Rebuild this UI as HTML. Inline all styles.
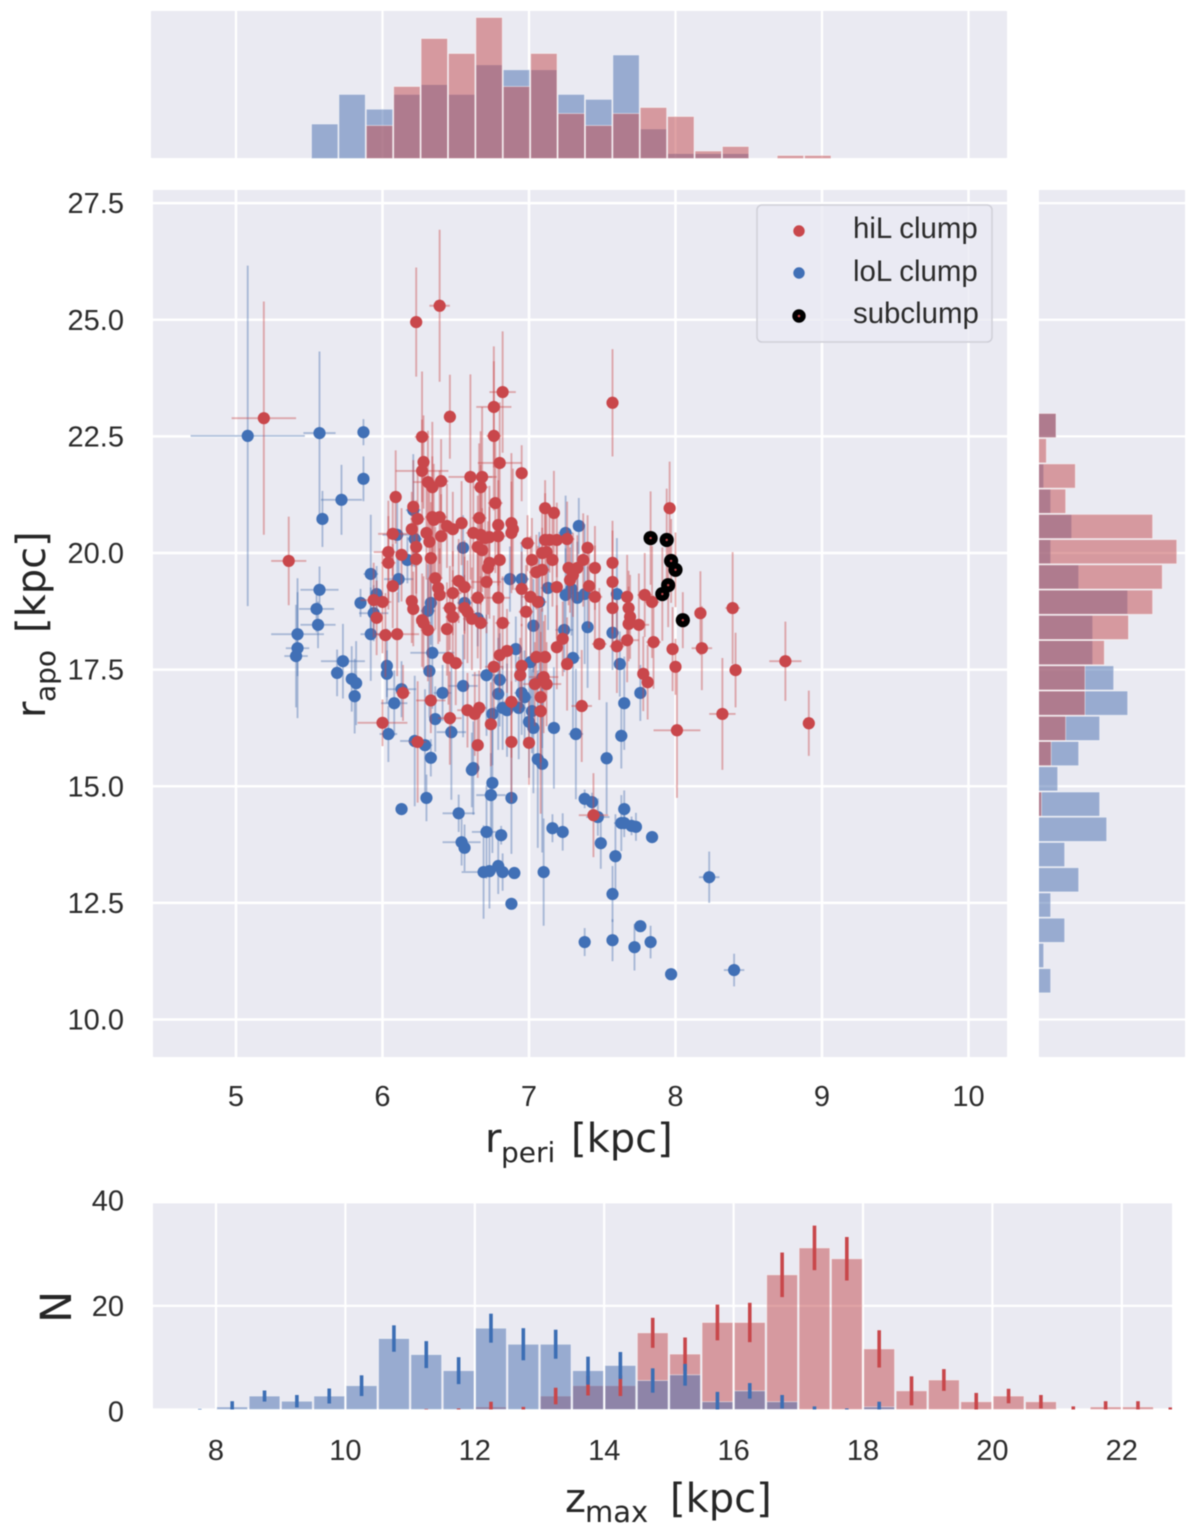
<!DOCTYPE html>
<html lang="en">
<head>
<meta charset="utf-8">
<title>Orbital parameters of clump stars</title>
<style>
html,body{margin:0;padding:0;background:#fff;}
#figure{display:block;width:1200px;height:1527px;filter:blur(0.55px);}
text{font-family:"Liberation Sans",Arial,sans-serif;fill:#2b2b2b;}
.math{font-family:"DejaVu Sans",sans-serif;fill:#262626;}
</style>
</head>
<body>
<svg id="figure" xmlns="http://www.w3.org/2000/svg" width="1200" height="1527" viewBox="0 0 1200 1527">
  <defs>
    <clipPath id="clip-right"><rect x="1039" y="190" width="146" height="867"/></clipPath>
    <clipPath id="clip-bottom"><rect x="153" y="1203" width="1019" height="207"/></clipPath>
  </defs>
  <rect x="151" y="11" width="856" height="147" fill="#eaeaf2"/>
  <rect x="153" y="190" width="854" height="867" fill="#eaeaf2"/>
  <rect x="1039" y="190" width="146" height="867" fill="#eaeaf2"/>
  <rect x="153" y="1203" width="1019" height="207" fill="#eaeaf2"/>
  <g id="grid"></g>
  <g id="top-hist"></g>
  <g id="right-hist" clip-path="url(#clip-right)"></g>
  <g id="scatter"></g>
  <g id="z-hist" clip-path="url(#clip-bottom)"></g>
  <g id="ticks"></g>

  <g>
    <rect x="757" y="205" width="235" height="137" rx="5" fill="#eaeaf2" fill-opacity="0.8" stroke="#cfcfd8" stroke-width="1.5"/>
    <circle cx="799" cy="231" r="5.7" fill="#c9474b"/>
    <text x="853" y="238" font-size="29.4">hiL clump</text>
    <circle cx="799" cy="273" r="5.7" fill="#4170b6"/>
    <text x="853" y="281" font-size="29.4">loL clump</text>
    <circle cx="799" cy="316" r="6.7" fill="#000"/>
    <circle cx="799" cy="316" r="1.3" fill="#c9474b"/>
    <text x="853" y="323" font-size="29.4">subclump</text>
  </g>

  <text class="math" y="1152" font-size="40"><tspan x="485">r</tspan><tspan x="501" dy="10" font-size="28">peri</tspan><tspan x="571" dy="-10">[kpc]</tspan></text>
  <text class="math" transform="translate(45,718) rotate(-90)" y="0" font-size="40"><tspan x="0">r</tspan><tspan x="16" dy="10" font-size="28">apo</tspan><tspan x="85" dy="-10">[kpc]</tspan></text>
  <text class="math" y="1512" font-size="40"><tspan x="565">z</tspan><tspan x="585" dy="10" font-size="29">max</tspan><tspan x="670" dy="-10">[kpc]</tspan></text>
  <text class="math" transform="translate(71,1323) rotate(-90)" font-size="43">N</text>
</svg>

<script>
// ---- scatter: hiL clump (rperi, rapo and their errors, kpc) ----
const hilPeri = [
5.19,5.36,6.23,6.39,6.82,6.76,6.46,6.76,6.27,6.28,
6.27,6.8,6.95,6.6,6.68,6.67,6.31,6.34,6.4,6.09,
6.77,6.21,6.24,6.34,6.39,6.35,6.66,7.11,7.17,6.44,
6.48,6.54,6.2,6.79,6.88,6.89,6.88,6.3,6.4,6.07,
6.62,6.67,6.7,6.73,6.79,6.32,6.23,6.04,6.13,6.04,
6.23,6.33,6.65,6.68,6.73,6.72,6.8,6.99,7.02,6.95,
7.05,7.09,7.11,7.14,7.19,7.26,7.12,7.09,7.16,7.27,
7.33,7.37,7.3,7.28,7.4,7.45,7.57,7.57,7.19,7.41,
7.45,6.71,6.52,6.56,6.36,6.38,6.39,6.48,6.65,6.56,
6.46,6.48,6.61,6.67,6.58,6.79,7.01,7.06,6.2,6.21,
6.07,5.94,6,5.96,6.02,6.1,6.27,6.28,6.31,6.44,
6.82,7.19,7.23,7.26,7.48,7.6,7.67,7.57,7.67,7.68,
7.69,7.68,7.75,7.79,7.84,7.85,7.98,8,8.17,8.18,
7.96,8.39,7.78,7.81,8.01,8.32,8.91,8.75,8.41,6.8,
6.85,6.76,6.95,6.94,7.05,7.11,7.1,7.12,7.04,7.08,
7.08,6.45,6.5,6.14,6.33,6.46,6.58,6.63,6.66,6.88,
6.74,6.88,7,6.65,7.36,6,6.24,7.44,7.57,6.98];
const hilApo = [
22.89,19.83,24.95,25.3,23.45,23.13,22.92,22.51,22.49,21.95,
21.76,21.93,21.71,21.63,21.63,21.41,21.52,21.41,21.54,21.2,
21.07,20.99,20.73,20.77,20.77,20.71,20.75,20.96,20.86,20.58,
20.51,20.64,20.51,20.6,20.64,20.51,20.43,20.43,20.36,20.41,
20.43,20.39,20.32,20.34,20.36,20.24,20.13,20.02,19.96,19.79,
19.87,19.89,20.13,20.06,19.79,19.68,19.85,20.21,19.85,19.23,
19.59,19.64,20.28,20.28,20.28,20.3,20.02,20,19.85,19.68,
19.68,19.85,19.53,19.42,20.11,19.68,19.79,19.38,19.27,19.29,
19.06,19.38,19.4,19.27,19.46,19.25,19.1,19.14,19.04,18.82,
18.82,18.63,18.59,18.5,18.74,19.04,19.06,18.95,18.97,18.8,
19.29,18.99,18.95,18.61,18.24,18.26,18.56,18.5,18.35,18.37,
18.5,17.98,18.16,17.62,18.05,18,18.13,18.82,19.06,18.82,
18.63,18.48,18.46,19.1,18.95,18.09,17.94,17.56,18.71,17.96,
20.96,18.82,17.41,17.23,16.2,16.55,16.35,17.68,17.49,17.81,
17.9,17.56,17.58,17.38,17.77,17.77,17.34,17.19,17.19,16.91,
16.61,17.75,17.64,17,16.84,16.46,16.63,16.55,16.68,16.81,
16.33,15.95,15.93,15.88,16.72,16.36,15.95,14.38,23.22,18.74];
const hilPeriErr = [
.22,.12,.04,.07,.09,.12,.03,.05,.05,.03,
.18,.15,.03,.15,.1,.05,.1,.05,.05,.03,
.05,.03,.05,.05,.05,.04,.05,.03,.03,.04,
.04,.03,.03,.04,.03,.03,.03,.03,.04,.1,
.05,.05,.05,.05,.05,.04,.03,.1,.03,.05,
.04,.04,.04,.04,.04,.04,.03,.05,.04,.05,
.05,.05,.04,.04,.04,.05,.04,.04,.04,.04,
.04,.04,.04,.04,.04,.03,.03,.03,.04,.03,
.05,.1,.05,.05,.05,.04,.04,.06,.05,.05,
.05,.05,.06,.05,.05,.08,.06,.06,.03,.03,
.04,.09,.06,.04,.05,.15,.04,.05,.05,.04,
.05,.03,.03,.04,.05,.05,.08,.03,.03,.03,
.04,.03,.07,.05,.05,.05,.03,.03,.03,.07,
.03,.05,.03,.03,.16,.09,.02,.11,.03,.04,
.04,.06,.04,.04,.04,.04,.1,.1,.08,.04,
.04,.04,.05,.05,.1,.08,.07,.05,.05,.05,
.03,.04,.03,.03,.07,.17,.06,.1,.03,.05];
const hilApoErr = [
2.5,.95,1.17,1.63,1.3,1.3,.9,1.6,1.4,1,
1.1,1.3,.6,2.2,1.5,1.2,1.1,1.4,.9,1,
1.5,1,1,1.3,1,1.2,1.6,.6,.9,.9,
.8,.9,.8,1.3,1.5,1.3,1.1,1,.9,.9,
1.2,1.5,1.3,1.1,1.2,1.2,1,1.1,1,1,
1.1,1.2,1.1,.9,1.2,1,1.3,.6,.9,.8,
.8,.9,1,.7,.8,.8,.9,1,1,.8,
.7,1,.9,.7,.7,.9,.9,1.1,1.1,.9,
1.1,1.1,.9,1,1.1,1.2,1,.9,1.3,1.1,
.9,1,1.1,1,1.1,1.2,1.3,1.2,.9,.8,
.9,.8,1.1,.8,.9,.9,1,1,1.1,1,
1,.9,.8,1,1.2,1,.9,.9,.9,.8,
.9,.8,1.1,.9,1.2,1,.9,.6,.9,.9,
1,1.2,.8,.8,1.45,1.2,.7,.85,.8,.8,
.9,1.1,.9,.8,.8,.9,1.2,.9,.9,1.4,
2.2,1,.9,.6,.7,1,.8,.9,.8,1.2,
.9,1.3,.9,.7,1.2,.5,1.3,.9,1.15,1];

// ---- scatter: loL clump ----
const lolPeri = [
5.08,5.57,5.87,5.87,5.72,5.59,5.57,5.55,5.56,5.42,
5.42,5.41,5.92,5.96,5.85,5.94,5.92,6.11,6.17,6.21,
6.1,6.22,6.55,5.73,5.69,5.79,5.82,5.81,6.03,6.03,
6.13,6.08,6.41,6.34,6.32,6.33,6.31,6.36,6.04,6.47,
6.22,6.29,6.33,6.56,6.65,6.87,6.95,7.13,7.25,7.34,
7.29,7.25,7.33,7.38,7.07,7.6,7.03,7.24,7.4,7.57,
7.3,7.62,6.91,7.01,6.71,6.8,6.55,6.79,6.95,6.97,
7.09,7.76,7.65,7.02,6.93,6.85,6.82,6.75,7,7.03,
7.17,7.32,7.63,7.06,7.09,7.53,6.61,6.62,6.75,6.74,
6.88,6.3,6.13,6.52,6.71,6.81,6.54,6.56,6.69,6.73,
6.79,6.82,6.9,7.1,6.88,7.38,7.43,7.47,7.16,7.23,
7.65,7.63,7.65,7.7,7.73,7.84,7.49,7.59,7.57,8.23,
7.76,7.38,7.57,7.72,7.83,7.97,8.4];
const lolApo = [
22.51,22.57,22.59,21.59,21.14,20.73,19.21,18.8,18.46,18.26,
17.96,17.79,19.55,19.12,18.93,18.71,18.26,19.44,19.85,20.92,
20.39,20.3,20.11,17.68,17.43,17.3,17.21,16.93,17.58,17.41,
17.08,16.78,17,17.86,17.47,18.93,18.76,16.44,16.12,16.16,
15.97,15.88,15.61,18.93,18.6,19.44,19.44,19.25,20.43,20.58,
19.23,19.1,19.04,19.12,18.95,19.12,18.44,18.35,18.41,18.29,
17.75,17.62,17.94,17.66,17.38,17.28,17.15,16.98,17,16.91,
17.32,17,16.78,16.61,16.68,16.63,16.68,16.55,16.38,16.25,
16.25,16.12,16.08,15.58,15.48,15.6,15.35,15.39,15.07,14.81,
14.75,14.75,14.51,14.42,14.02,13.95,13.8,13.68,13.16,13.18,
13.29,13.16,13.14,13.16,12.48,14.73,14.66,14.34,14.1,14.02,
14.51,14.21,14.21,14.15,14.13,13.91,13.78,13.5,12.69,13.05,
12,11.66,11.7,11.55,11.66,10.97,11.06];
const lolPeriErr = [
.39,.11,.03,.02,.14,.03,.13,.12,.12,.18,
.08,.08,.05,.04,.02,.1,.07,.1,.05,.05,
.1,.05,.03,.15,.04,.04,.04,.04,.03,.03,
.1,.09,.06,.15,.02,.03,.05,.03,.06,.1,
.1,.05,.02,.05,.05,.06,.05,.05,.05,.03,
.04,.04,.04,.05,.04,.04,.04,.06,.03,.04,
.05,.03,.04,.04,.1,.05,.1,.03,.05,.05,
.05,.03,.03,.03,.05,.05,.06,.04,.04,.03,
.03,.05,.04,.03,.03,.03,.03,.03,.03,.1,
.02,.03,.02,.11,.1,.02,.13,.03,.15,.03,
.03,.02,.02,.02,.02,.03,.03,.08,.02,.02,
.02,.05,.03,.02,.02,.02,.02,.02,.02,.07,
.02,.02,.02,.02,.02,.02,.07];
const lolApoErr = [
3.65,1.75,.28,.48,.75,.6,.5,.5,.5,.9,
1.5,1.1,1.27,.6,.3,.6,1,.5,.5,1.2,
.9,.6,.7,.8,.5,.7,.9,.8,.8,.5,
.6,.7,.6,1.2,1,.9,1,.7,.6,1.45,
1.4,1.2,.4,.6,.6,.7,.8,.9,.8,.6,
1,1,1.2,1.5,1.5,1.2,1,.9,1.3,.8,
1.6,.7,.7,1,1.3,1,1.1,1.2,.9,1,
1.5,.6,1,.9,1.1,1,.9,1.1,1.2,1.4,
1.3,1.4,.7,1.9,1.9,1.2,.8,1,1.5,.9,
1.2,.5,.1,.4,1,.2,.5,.5,1,.8,
.6,.4,.05,1.15,.08,.2,.2,.4,.3,.4,
.4,.6,.3,.2,.3,.1,.55,.9,.6,.55,
.1,.3,.45,.5,.35,.1,.35];

// ---- scatter: subclump ----
const subPeri = [7.83,7.94,7.97,8,7.95,7.91,8.05];
const subApo = [20.32,20.28,19.83,19.64,19.31,19.12,18.56];
const subPeriErr = [.03,.03,.03,.03,.03,.03,.03];
const subApoErr = [1,1.1,.9,.8,.9,1,.6];

// ---- top histogram: rperi counts per bin ----
const periBinStart = 5.512;
const periBinWidth = 0.187;
const periCountsLol = [7,13,10,13,15,13,19,18,18,13,12,21,6,1,1,1,0,0,0];
const periCountsHil = [0,0,11,24,40,35,47,24,35,15,11,15,17,14,2.5,4,0,1,1];

// ---- right histogram: rapo counts per bin (low to high) ----
const apoBinStart = 10.56;
const apoBinWidth = 0.541;
const apoCountsLol = [2,1,4,2,6,4,10,9,3,6,9,13,11,8,8,13,6,2,5,2,1,0,2.8];
const apoCountsHil = [0,0,0,0,0,0,0,1,0,3,6,10,10,14,19,24,26,29,24,6,8,2,4];

// ---- bottom histogram: zmax ----
const zBinCenters = [7.75,8.25,8.75,9.25,9.75,10.25,10.75,11.25,11.75,12.25,12.75,13.25,13.75,14.25,14.75,15.25,15.75,16.25,16.75,17.25,17.75,18.25,18.75,19.25,19.75,20.25,20.75,21.25,21.75,22.25,22.75];
const zBinWidth = 0.5;
const zCountsLol = [0,.5,2.6,1.6,2.6,4.6,13.7,10.6,7.5,15.7,12.6,12.6,7.5,8.5,5.6,6.7,1.5,3.6,1.5,0,0,.5,0,0,0,0,0,0,0,0,0];
const zErrLol = [.1,1.1,1.07,1.2,1.45,2,2.55,2.6,2.6,2.8,3.1,2.8,2.7,2.6,2.35,2.1,1.9,1.5,1.3,.6,.2,1,0,0,0,0,0,0,0,0,0];
const zCountsHil = [0,0,0,0,0,0,0,0,0,.5,0,2.6,4.6,4.6,14.8,10.7,16.8,16.8,26,31.2,29.1,11.7,3.6,5.7,1.5,2.6,1.5,0,.5,.5,0];
const zErrHil = [0,0,0,0,0,0,0,.1,.2,1,.5,1.6,1.9,2,2.9,3.2,3.45,3.8,4.3,4.3,4.2,3.6,2.8,2.1,1.7,1.4,1.3,.6,1.1,1.1,.4];

// ---- tick labels ----
const periTicks = [5,6,7,8,9,10];
const apoTicks = [10,12.5,15,17.5,20,22.5,25,27.5];
const zTicks = [8,10,12,14,16,18,20,22];
const countTicks = [0,20,40];

// ---- axis functions ----
function xPeri(v){ return 236 + (v - 5) * 146.5; }
function yApo(v){ return 553 - (v - 20) * 46.65; }
function xZ(v){ return 216 + (v - 8) * 64.7; }
function yCount(v){ return 1409.5 - v * 5.18; }
function topHeightLol(n){ return n * 4.93; }
function topHeightHil(n){ return n * 3.0; }
function rightXLol(n){ return 1036.7 + n * 7.0; }
function rightXHil(n){ return 1036.7 + n * 4.83; }

const NS = 'http://www.w3.org/2000/svg';
const RED = '#c44e52', BLUE = '#4c72b0';
function make(tag, attrs, parent){
  const el = document.createElementNS(NS, tag);
  for (const k in attrs) el.setAttribute(k, attrs[k]);
  parent.appendChild(el);
  return el;
}
const gridG = document.getElementById('grid');
const ticksG = document.getElementById('ticks');
const topG = document.getElementById('top-hist');
const rightG = document.getElementById('right-hist');
const scatterG = document.getElementById('scatter');
const zG = document.getElementById('z-hist');

// grid + ticks
periTicks.forEach(function(t){
  const a = make('line', {x1:xPeri(t), x2:xPeri(t), y1:11, y2:158, stroke:'#fff', 'stroke-width':2.2}, gridG);
  
  
  const b = make('line', {x1:xPeri(t), x2:xPeri(t), y1:190, y2:1057, stroke:'#fff', 'stroke-width':2.5}, gridG);
  
  
  const l = make('text', {x:xPeri(t), y:1106, 'font-size':29, 'text-anchor':'middle'}, ticksG);
  l.textContent = String(t);
  
  
});
apoTicks.forEach(function(t){
  const a = make('line', {x1:153, x2:1007, y1:yApo(t), y2:yApo(t), stroke:'#fff', 'stroke-width':2.5}, gridG);
  
  
  const b = make('line', {x1:1039, x2:1185, y1:yApo(t), y2:yApo(t), stroke:'#fff', 'stroke-width':2.2}, gridG);
  
  
  const l = make('text', {x:124, y:yApo(t) + 10, 'font-size':29, 'text-anchor':'end'}, ticksG);
  l.textContent = t.toFixed(1);
  
  
});
zTicks.forEach(function(t){
  const a = make('line', {x1:xZ(t), x2:xZ(t), y1:1203, y2:1410, stroke:'#fff', 'stroke-width':2.2}, gridG);
  
  
  const l = make('text', {x:xZ(t), y:1460, 'font-size':29, 'text-anchor':'middle'}, ticksG);
  l.textContent = String(t);
  
  
});
countTicks.forEach(function(t){
  const a = make('line', {x1:153, x2:1172, y1:yCount(t), y2:yCount(t), stroke:'#fff', 'stroke-width':2.2}, gridG);
  
  
  const l = make('text', {x:124, y:yCount(t) + (t === 0 ? 12 : (t === 40 ? 8 : 10)), 'font-size':29, 'text-anchor':'end'}, ticksG);
  l.textContent = String(t);
  
  
});

// top histogram
function drawTop(counts, color, heightFn, label){
  counts.forEach(function(n, i){
    if (!n) return;
    const x0 = xPeri(periBinStart + i * periBinWidth);
    const x1 = xPeri(periBinStart + (i + 1) * periBinWidth);
    const h = heightFn(n);
    const r = make('rect', {x:x0 + 0.5, y:158.5 - h, width:x1 - x0 - 1, height:h, fill:color, 'fill-opacity':0.52, stroke:'#fff', 'stroke-opacity':0.5, 'stroke-width':0.9}, topG);
    
    
  });
}
drawTop(periCountsLol, BLUE, topHeightLol, 'rperi-bar-lol');
drawTop(periCountsHil, RED, topHeightHil, 'rperi-bar-hil');

// right histogram
function drawRight(counts, color, xFn, label){
  counts.forEach(function(n, i){
    if (!n) return;
    const yLow = yApo(apoBinStart + i * apoBinWidth);
    const yHigh = yApo(apoBinStart + (i + 1) * apoBinWidth);
    const r = make('rect', {x:1036.7, y:yHigh + 0.5, width:xFn(n) - 1036.7, height:yLow - yHigh - 1, fill:color, 'fill-opacity':0.52, stroke:'#fff', 'stroke-opacity':0.5, 'stroke-width':0.9}, rightG);
    
    
  });
}
drawRight(apoCountsLol, BLUE, rightXLol, 'rapo-bar-lol');
drawRight(apoCountsHil, RED, rightXHil, 'rapo-bar-hil');

// scatter
function drawErrors(peri, apo, ePeri, eApo, color, label){
  peri.forEach(function(p, i){
    const a = apo[i], ep = ePeri[i] || 0, ea = eApo[i] || 0;
    const v = make('line', {x1:xPeri(p), x2:xPeri(p), y1:yApo(a + ea), y2:yApo(a - ea), stroke:color, 'stroke-opacity':0.42, 'stroke-width':1.9}, scatterG);
    
    
    const h = make('line', {x1:xPeri(p - ep), x2:xPeri(p + ep), y1:yApo(a), y2:yApo(a), stroke:color, 'stroke-opacity':0.42, 'stroke-width':1.9}, scatterG);
    
    
  });
}
function drawDots(peri, apo, color, radius, label){
  peri.forEach(function(p, i){
    const c = make('circle', {cx:xPeri(p), cy:yApo(apo[i]), r:radius, fill:color}, scatterG);
    
    
  });
}
drawErrors(lolPeri, lolApo, lolPeriErr, lolApoErr, '#4c72b0', 'lol-star');
drawDots(lolPeri, lolApo, '#4170b6', 6.1, 'lol-star-point');
drawErrors(hilPeri, hilApo, hilPeriErr, hilApoErr, '#c9474b', 'hil-star');
drawErrors(subPeri, subApo, subPeriErr, subApoErr, '#c9474b', 'subclump-star');
drawDots(hilPeri, hilApo, '#c9474b', 6.1, 'hil-star-point');
drawDots(subPeri, subApo, '#000', 7.1, 'subclump-star-point');
drawDots(subPeri, subApo, '#c9474b', 1.2, 'subclump-star-core');

// zmax histogram (loL drawn over hiL, giving the purple overlap)
function drawZBars(counts, color, label){
  counts.forEach(function(n, i){
    if (!n) return;
    const c = zBinCenters[i];
    const x0 = xZ(c - zBinWidth / 2), x1 = xZ(c + zBinWidth / 2);
    const r = make('rect', {x:x0 + 0.8, y:yCount(n), width:x1 - x0 - 1.6, height:yCount(0) - yCount(n), fill:color, 'fill-opacity':0.52, stroke:'#fff', 'stroke-opacity':0.5, 'stroke-width':0.9}, zG);
    
    
  });
}
function drawZErrors(counts, errs, color, label){
  counts.forEach(function(n, i){
    const e = errs[i];
    if (!e) return;
    const c = zBinCenters[i];
    const l = make('line', {x1:xZ(c), x2:xZ(c), y1:yCount(n + e), y2:yCount(Math.max(0, n - e)), stroke:color, 'stroke-width':3.6}, zG);
    
    
  });
}
drawZBars(zCountsHil, RED, 'zmax-bar-hil');
drawZBars(zCountsLol, BLUE, 'zmax-bar-lol');
drawZErrors(zCountsHil, zErrHil, '#c8474b', 'zmax-error-hil');
drawZErrors(zCountsLol, zErrLol, '#3c6eb4', 'zmax-error-lol');
</script>
</body>
</html>
